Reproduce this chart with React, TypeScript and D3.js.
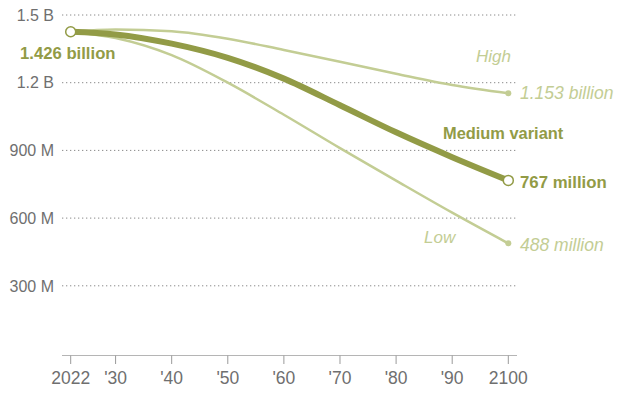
import React from "react";
import * as d3 from "d3";

const years = [2022, 2030, 2040, 2050, 2060, 2070, 2080, 2090, 2100];
const medium = [1426, 1414, 1373, 1310, 1218, 1100, 980, 870, 767];
const high = [1426, 1436, 1428, 1395, 1345, 1293, 1240, 1190, 1153];
const low = [1426, 1398, 1322, 1200, 1058, 910, 766, 624, 488];
const yTicks = [300, 600, 900, 1200, 1500];
const yTickLabels = ["300 M", "600 M", "900 M", "1.2 B", "1.5 B"];
const xTicks = [2022, 2030, 2040, 2050, 2060, 2070, 2080, 2090, 2100];
const xTickLabels = ["2022", "'30", "'40", "'50", "'60", "'70", "'80", "'90", "2100"];

const DARK = "#929b46";
const LIGHT = "#c3cd94";
const GRAY = "#6f6f6f";
const FONT = "'Liberation Sans', Arial, sans-serif";

export default function App() {
  const x = d3.scaleLinear().domain([2022, 2100]).range([70.7, 508.3]);
  const y = d3.scaleLinear().domain([0, 1500]).range([353.5, 15]);
  const line = d3
    .line<[number, number]>()
    .x((d) => x(d[0]))
    .y((d) => y(d[1]))
    .curve(d3.curveMonotoneX);
  const pts = (arr: number[]) => years.map((yr, i) => [yr, arr[i]] as [number, number]);
  const last = years.length - 1;
  const axisY = 355.5;

  return (
    <svg
      width={627}
      height={394}
      style={{ position: "absolute", left: 0, top: 0, background: "#fff" }}
      fontFamily={FONT}
    >
      {yTicks.map((t, i) => (
        <g key={t}>
          <line
            x1={62}
            x2={517}
            y1={y(t)}
            y2={y(t)}
            stroke="#8a8a8a"
            strokeWidth={1}
            strokeDasharray="1.3 2.7"
          />
          <text x={54} y={y(t)} dy="0.36em" textAnchor="end" fontSize={16} fill={GRAY}>
            {yTickLabels[i]}
          </text>
        </g>
      ))}
      <line x1={62} x2={517} y1={axisY} y2={axisY} stroke="#b5b5b5" strokeWidth={1} />
      {xTicks.map((t, i) => (
        <g key={t}>
          <line x1={x(t)} x2={x(t)} y1={axisY} y2={364} stroke="#9a9a9a" strokeWidth={1} />
          <text x={x(t)} y={384} textAnchor="middle" fontSize={17.5} fill={GRAY}>
            {xTickLabels[i]}
          </text>
        </g>
      ))}
      <path d={line(pts(high)) || ""} fill="none" stroke={LIGHT} strokeWidth={2.5} />
      <path d={line(pts(low)) || ""} fill="none" stroke={LIGHT} strokeWidth={2.5} />
      <path d={line(pts(medium)) || ""} fill="none" stroke={DARK} strokeWidth={6} />
      <circle cx={x(years[last])} cy={y(high[last])} r={3} fill={LIGHT} />
      <circle cx={x(years[last])} cy={y(low[last])} r={3} fill={LIGHT} />
      <circle cx={x(years[0])} cy={y(medium[0])} r={5} fill="#fff" stroke={DARK} strokeWidth={1.5} />
      <circle cx={x(years[last])} cy={y(medium[last])} r={5} fill="#fff" stroke={DARK} strokeWidth={1.5} />

      <text x={20} y={59} fontSize={16.7} fontWeight="bold" fill={DARK}>1.426 billion</text>
      <text x={476} y={62} fontSize={17} fontStyle="italic" fill={LIGHT}>High</text>
      <text x={520} y={99} fontSize={17.5} fontStyle="italic" fill={LIGHT}>1.153 billion</text>
      <text x={443} y={139} fontSize={16.4} fontWeight="bold" fill={DARK}>Medium variant</text>
      <text x={520} y={188} fontSize={16.8} fontWeight="bold" fill={DARK}>767 million</text>
      <text x={424} y={243} fontSize={17} fontStyle="italic" fill={LIGHT}>Low</text>
      <text x={520} y={251} fontSize={17.5} fontStyle="italic" fill={LIGHT}>488 million</text>
    </svg>
  );
}
